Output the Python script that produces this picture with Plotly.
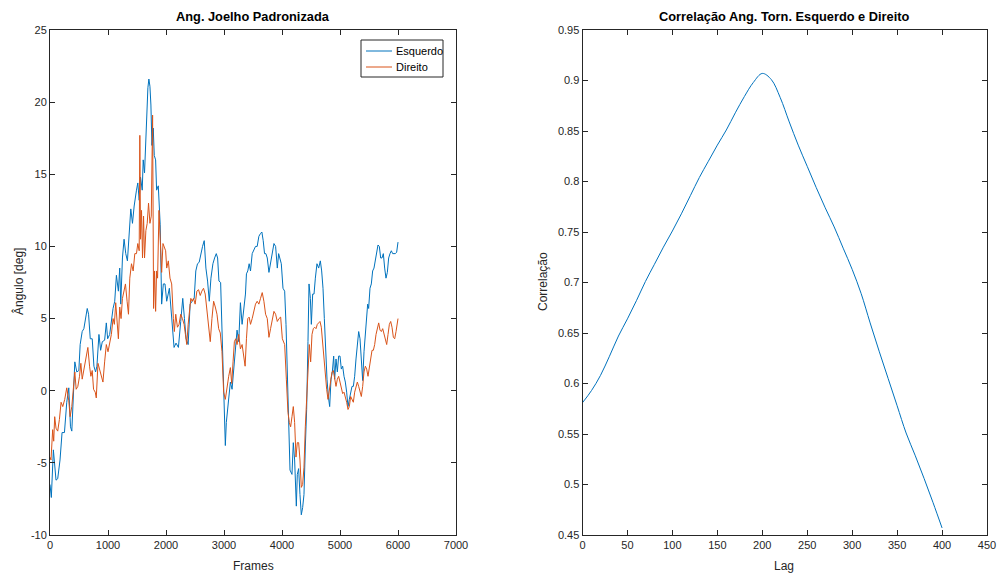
import plotly.graph_objects as go

# Left panel: standardized knee angle, left and right legs
esq_frames = [0, 23, 58, 104, 133, 173, 208, 249, 289, 324, 353, 376, 410, 428, 462, 497, 520, 555, 584, 607,
              642, 665, 694, 728, 757, 786, 809, 844, 873, 902, 942, 971, 994, 1029, 1058, 1087, 1116, 1145, 1179, 1202,
              1220, 1249, 1277, 1306, 1335, 1364, 1393, 1422, 1451, 1491, 1514, 1538, 1561, 1590, 1607, 1630, 1653, 1671, 1688, 1705,
              1723, 1740, 1757, 1780, 1798, 1821, 1838, 1867, 1884, 1900, 1925, 1954, 1983, 2012, 2058, 2098, 2139, 2173, 2214, 2254,
              2289, 2318, 2347, 2382, 2416, 2451, 2486, 2514, 2543, 2572, 2601, 2630, 2659, 2688, 2717, 2746, 2775, 2809, 2838, 2867,
              2890, 2913, 2942, 2960, 2983, 3006, 3023, 3040, 3064, 3087, 3110, 3139, 3168, 3197, 3225, 3254, 3283, 3312, 3341, 3370,
              3387, 3410, 3434, 3457, 3486, 3514, 3543, 3572, 3601, 3630, 3653, 3676, 3699, 3722, 3746, 3775, 3803, 3832, 3861, 3890,
              3919, 3942, 3965, 3988, 4017, 4046, 4069, 4092, 4115, 4138, 4172, 4195, 4218, 4247, 4264, 4287, 4310, 4333, 4356, 4379,
              4402, 4425, 4448, 4466, 4489, 4506, 4529, 4552, 4575, 4603, 4632, 4661, 4684, 4707, 4730, 4753, 4776, 4799, 4822, 4845,
              4868, 4891, 4908, 4931, 4954, 4977, 5000, 5023, 5046, 5069, 5092, 5115, 5138, 5161, 5184, 5207, 5230, 5253, 5276, 5299,
              5322, 5345, 5368, 5391, 5414, 5437, 5460, 5477, 5494, 5517, 5540, 5563, 5586, 5609, 5632, 5655, 5678, 5701, 5724, 5747,
              5770, 5793, 5816, 5839, 5862, 5885, 5908, 5931, 5954, 5977, 6000]
esq_vals = [-6.5, -7.4, -4.1, -6.2, -6.1, -4.8, -2.9, -2.9, -0.8, 0.2, -2.5, -2.8, 0.3, 2.0, 1.3, 1.4, 3.2, 4.1, 4.3, 5.0,
            5.7, 5.3, 3.6, 3.6, 1.7, 1.3, 1.7, 3.9, 2.8, 3.4, 3.5, 4.7, 3.6, 3.9, 5.0, 5.7, 6.2, 8.0, 6.9, 8.5,
            6.0, 9.2, 10.5, 9.5, 9.0, 10.7, 12.6, 11.6, 12.8, 13.9, 14.4, 13.2, 14.8, 13.9, 16.0, 15.1, 17.6, 20.3, 21.0, 21.6,
            21.1, 19.8, 17.0, 18.2, 16.3, 16.0, 13.9, 14.2, 12.1, 11.5, 6.0, 7.4, 7.4, 6.2, 7.1, 5.0, 3.0, 3.3, 3.0, 4.8,
            6.4, 5.0, 3.6, 3.2, 6.0, 6.2, 6.4, 8.3, 8.8, 8.9, 9.5, 10.0, 10.4, 8.5, 7.6, 6.2, 7.8, 8.8, 9.2, 9.5,
            9.2, 7.6, 7.5, 4.6, 1.0, -1.5, -3.8, -2.2, -1.1, 0.1, 0.6, 0.1, 1.7, 3.2, 4.2, 3.4, 6.1, 4.6, 5.5, 6.7,
            8.1, 8.3, 8.8, 8.3, 9.5, 9.7, 10.0, 10.0, 10.7, 10.9, 11.0, 10.4, 9.5, 9.5, 9.2, 8.2, 8.9, 9.5, 10.2, 10.0,
            8.5, 9.5, 9.2, 8.8, 7.1, 6.9, 4.6, 0.8, -2.5, -5.5, -5.8, -3.6, -4.8, -8.0, -5.8, -5.4, -7.2, -8.6, -8.1, -7.2,
            -3.9, -1.3, 3.4, 7.4, 6.4, 4.6, 6.7, 6.7, 7.8, 8.8, 8.5, 9.0, 8.3, 7.1, 5.0, 2.7, 0.8, -0.4, -1.1, 0.8,
            1.3, 2.4, 0.8, 2.2, 1.3, 2.4, 2.4, 1.5, 1.7, 1.0, 0.6, -0.1, -1.1, -0.6, -0.1, 0.3, 0.3, 1.0, 2.2, 3.4,
            4.1, 3.6, 2.0, 0.7, 2.7, 4.1, 5.7, 6.0, 5.7, 7.1, 7.4, 8.3, 8.5, 9.0, 9.5, 10.1, 10.0, 9.2, 9.2, 9.5,
            8.5, 7.8, 8.2, 9.2, 9.5, 9.7, 9.5, 9.5, 9.5, 9.6, 10.3]

dir_frames = [0, 17, 46, 64, 81, 104, 133, 162, 191, 220, 254, 289, 324, 347, 376, 405, 428, 451, 480, 509,
              532, 555, 590, 619, 653, 682, 705, 728, 751, 780, 798, 827, 855, 884, 913, 942, 971, 1000, 1029, 1058,
              1087, 1110, 1133, 1156, 1179, 1202, 1225, 1249, 1277, 1301, 1329, 1353, 1376, 1405, 1434, 1462, 1491, 1514, 1538, 1549,
              1561, 1578, 1595, 1613, 1630, 1653, 1676, 1699, 1723, 1746, 1769, 1786, 1803, 1821, 1838, 1855, 1879, 1902, 1925, 1948,
              1971, 1994, 2012, 2040, 2069, 2098, 2127, 2144, 2168, 2197, 2225, 2254, 2283, 2312, 2335, 2358, 2382, 2405, 2428, 2451,
              2474, 2503, 2532, 2561, 2590, 2618, 2647, 2676, 2705, 2734, 2763, 2792, 2821, 2850, 2879, 2908, 2936, 2965, 2994, 3023,
              3052, 3081, 3110, 3133, 3156, 3179, 3202, 3225, 3254, 3283, 3312, 3341, 3364, 3387, 3410, 3434, 3457, 3486, 3514, 3543,
              3572, 3601, 3630, 3659, 3688, 3717, 3746, 3775, 3803, 3832, 3861, 3890, 3919, 3948, 3977, 4006, 4046, 4075, 4103, 4126,
              4149, 4172, 4195, 4218, 4241, 4264, 4287, 4310, 4333, 4356, 4379, 4402, 4425, 4448, 4471, 4494, 4517, 4540, 4563, 4586,
              4609, 4632, 4655, 4678, 4701, 4724, 4747, 4770, 4793, 4816, 4839, 4862, 4885, 4908, 4931, 4954, 4977, 5000, 5023, 5046,
              5069, 5092, 5115, 5138, 5161, 5184, 5207, 5230, 5253, 5276, 5299, 5322, 5345, 5368, 5391, 5414, 5437, 5460, 5483, 5506,
              5529, 5552, 5575, 5598, 5621, 5644, 5667, 5690, 5713, 5736, 5759, 5782, 5805, 5828, 5851, 5874, 5897, 5920, 5943, 5966,
              5989, 6000]
dir_vals = [-4.6, -4.8, -2.7, -3.5, -1.8, -2.6, -2.8, -2.0, -0.8, -1.1, -0.6, 0.2, -0.7, -1.8, -1.1, 0.2, 1.3, 0.1, 0.3, 1.0,
            1.9, 0.8, 1.6, 2.2, 3.0, 1.7, 1.0, 1.4, 0.1, -0.1, -0.5, 1.9, 1.4, 0.9, 0.6, 2.0, 3.2, 2.7, 3.4, 3.9,
            5.0, 4.6, 6.1, 5.0, 3.6, 5.8, 5.0, 6.4, 6.9, 7.4, 6.2, 5.3, 7.8, 8.8, 8.3, 9.5, 9.5, 10.2, 9.7, 17.7,
            10.5, 12.5, 9.2, 12.1, 9.2, 11.1, 11.6, 13.0, 11.6, 12.1, 19.1, 5.7, 8.3, 5.5, 8.3, 7.8, 12.5, 10.2, 8.2, 10.2,
            10.0, 9.7, 8.5, 9.0, 7.8, 7.4, 5.0, 4.1, 5.3, 4.4, 4.6, 5.3, 5.0, 4.6, 3.9, 3.2, 4.6, 5.7, 6.4, 6.2,
            6.4, 6.0, 6.9, 7.0, 6.6, 6.9, 7.1, 6.7, 5.7, 4.8, 3.4, 5.0, 6.2, 5.8, 5.3, 4.3, 4.0, 2.7, -0.1, -0.6,
            0.3, 1.0, 1.6, 0.5, 2.0, 3.4, 3.6, 3.2, 3.9, 2.9, 3.2, 2.2, 1.7, 3.6, 5.0, 5.1, 4.6, 5.0, 5.5, 6.0,
            6.2, 6.0, 6.4, 6.8, 6.2, 5.3, 5.0, 3.7, 4.3, 4.8, 5.5, 5.3, 4.8, 5.0, 5.1, 3.6, 3.2, 0.8, -1.5, -2.2,
            -2.5, -1.8, -1.1, -2.2, -4.6, -3.6, -3.6, -4.8, -6.7, -6.5, -5.3, -2.5, -0.4, 1.5, 3.2, 2.0, 3.9, 4.3, 4.4, 4.3,
            4.6, 4.7, 4.8, 4.4, 3.2, 2.0, 1.3, 0.1, -0.6, 0.1, 0.8, 1.3, 1.4, 0.8, 0.3, 0.8, 1.0, 0.6, 0.1, -0.2,
            -0.1, -0.4, -0.8, -1.3, -1.1, -0.4, -0.6, -0.8, -0.1, 0.3, 0.6, 0.3, -0.1, -0.4, 0.3, 1.3, 1.7, 1.5, 1.0, 1.7,
            2.4, 2.8, 2.8, 3.2, 3.9, 4.3, 4.7, 4.2, 4.1, 4.3, 3.9, 3.4, 3.2, 3.9, 4.6, 4.8, 4.4, 3.7, 3.6, 4.1,
            4.6, 5.0]

# Right panel: cross-correlation versus lag
lags = [0, 10, 20, 30, 40, 50, 60, 70, 80, 90, 100, 110, 120, 130, 140, 150, 160, 170, 180, 190,
        200, 210, 220, 230, 240, 250, 260, 270, 280, 290, 300, 310, 320, 330, 340, 350, 360, 370, 380, 390, 400]
corr = [0.581, 0.593, 0.608, 0.627, 0.647, 0.664, 0.682, 0.701, 0.718, 0.735, 0.751, 0.768, 0.786, 0.804, 0.820,
        0.836, 0.851, 0.868, 0.884, 0.898, 0.907, 0.901, 0.883, 0.859, 0.836, 0.815, 0.794, 0.774, 0.755, 0.734,
        0.713, 0.689, 0.660, 0.632, 0.605, 0.578, 0.551, 0.529, 0.506, 0.482, 0.457]

left_xticks = [0, 1000, 2000, 3000, 4000, 5000, 6000, 7000]
left_yticks = [-10, -5, 0, 5, 10, 15, 20, 25]
right_xticks = [0, 50, 100, 150, 200, 250, 300, 350, 400, 450]
right_yticks = [0.45, 0.5, 0.55, 0.6, 0.65, 0.7, 0.75, 0.8, 0.85, 0.9, 0.95]
right_ytext = ["0.45", "0.5", "0.55", "0.6", "0.65", "0.7", "0.75", "0.8", "0.85", "0.9", "0.95"]
series_names = ["Esquerdo", "Direito"]

BLUE = "#0072BD"
ORANGE = "#D95319"
INK = "#262626"
FONT = "Liberation Sans, Arial, sans-serif"
LW = 1.0

W, H = 1002, 580
ML, MR, MT, MB = 50, 15, 30, 45
PW, PH = W - ML - MR, H - MT - MB


def px_x(p):
    return (p - ML) / PW


def px_y(p):
    return 1 - (p - MT) / PH


fig = go.Figure()
fig.add_trace(go.Scatter(x=esq_frames, y=esq_vals, mode="lines", name=series_names[0], showlegend=False,
                         line=dict(color=BLUE, width=LW), xaxis="x", yaxis="y"))
fig.add_trace(go.Scatter(x=dir_frames, y=dir_vals, mode="lines", name=series_names[1], showlegend=False,
                         line=dict(color=ORANGE, width=LW), xaxis="x", yaxis="y"))
fig.add_trace(go.Scatter(x=lags, y=corr, mode="lines", showlegend=False,
                         line=dict(color=BLUE, width=LW, shape="spline"), xaxis="x2", yaxis="y2"))

axis_common = dict(showline=True, linecolor=INK, linewidth=1, mirror="ticks", ticks="inside",
                   ticklen=5, tickcolor=INK, tickwidth=1, showgrid=False, zeroline=False,
                   automargin=False, tickfont=dict(family=FONT, size=11, color=INK), fixedrange=True)

fig.update_layout(
    width=W, height=H,
    margin=dict(l=ML, r=MR, t=MT, b=MB, autoexpand=False),
    paper_bgcolor="white", plot_bgcolor="white",
    xaxis=dict(domain=[0, px_x(456)], range=[0, 7000], tickvals=left_xticks,
               ticktext=[str(v) for v in left_xticks], anchor="y", **axis_common),
    yaxis=dict(domain=[0, 1], range=[-10, 25], tickvals=left_yticks,
               ticktext=[str(v) for v in left_yticks], anchor="x", **axis_common),
    xaxis2=dict(domain=[px_x(582.5), 1], range=[0, 450], tickvals=right_xticks,
                ticktext=[str(v) for v in right_xticks], anchor="y2", **axis_common),
    yaxis2=dict(domain=[0, 1], range=[0.45, 0.95], tickvals=right_yticks,
                ticktext=right_ytext, anchor="x2", **axis_common),
    showlegend=False,
)

# Legend box drawn inside the left axes (top-right corner)
shapes = [
    dict(type="rect", xref="paper", yref="paper", x0=px_x(361), x1=px_x(443), y0=px_y(77), y1=px_y(40),
         line=dict(color=INK, width=1), fillcolor="white", layer="above"),
    dict(type="line", xref="paper", yref="paper", x0=px_x(366), x1=px_x(392), y0=px_y(51), y1=px_y(51),
         line=dict(color=BLUE, width=LW), layer="above"),
    dict(type="line", xref="paper", yref="paper", x0=px_x(366), x1=px_x(392), y0=px_y(67), y1=px_y(67),
         line=dict(color=ORANGE, width=LW), layer="above"),
]

annotations = [
    dict(text=series_names[0], x=px_x(394), y=px_y(51), xanchor="left", yanchor="middle",
         font=dict(family=FONT, size=11, color="black")),
    dict(text=series_names[1], x=px_x(394), y=px_y(67), xanchor="left", yanchor="middle",
         font=dict(family=FONT, size=11, color="black")),
    dict(text="<b>Ang. Joelho Padronizada</b>", x=px_x(253), y=px_y(17), xanchor="center", yanchor="middle",
         font=dict(family=FONT, size=12.8, color="black")),
    dict(text="<b>Correlação Ang. Torn. Esquerdo e Direito</b>", x=px_x(784), y=px_y(17), xanchor="center",
         yanchor="middle", font=dict(family=FONT, size=12.8, color="black")),
    dict(text="Frames", x=px_x(253), y=px_y(566), xanchor="center", yanchor="middle",
         font=dict(family=FONT, size=12, color=INK)),
    dict(text="Lag", x=px_x(784), y=px_y(566), xanchor="center", yanchor="middle",
         font=dict(family=FONT, size=12, color=INK)),
    dict(text="Ângulo [deg]", x=px_x(18), y=px_y(282), xanchor="center", yanchor="middle",
         textangle=-90, font=dict(family=FONT, size=12, color=INK)),
    dict(text="Correlação", x=px_x(543), y=px_y(282), xanchor="center", yanchor="middle",
         textangle=-90, font=dict(family=FONT, size=12, color=INK)),
]
for a in annotations:
    a.update(xref="paper", yref="paper", showarrow=False)

fig.update_layout(shapes=shapes, annotations=annotations)

fig.write_html("out.html")
